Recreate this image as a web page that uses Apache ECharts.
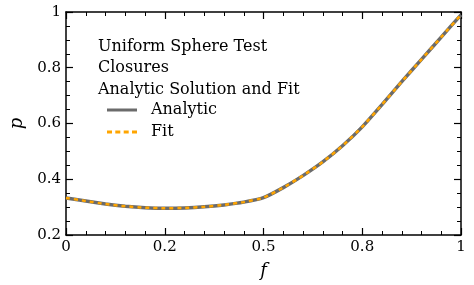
<!DOCTYPE html>
<html>
<head>
<meta charset="utf-8">
<script src="https://cdn.jsdelivr.net/npm/echarts@6/dist/echarts.min.js"></script>
<style>
html,body{margin:0;padding:0;background:#fff;}
#chart{width:474px;height:285px;}
</style>
</head>
<body>
<div id="chart"></div>
<script>
const fValues = [0, 0.05, 0.1, 0.15, 0.2, 0.25, 0.3, 0.35, 0.4, 0.45, 0.5, 0.55, 0.6, 0.65, 0.7, 0.75, 0.8, 0.85, 0.9, 0.95, 1.0];
const analyticP = [0.333, 0.322, 0.311, 0.303, 0.298, 0.296, 0.297, 0.301, 0.308, 0.318, 0.334, 0.370, 0.413, 0.462, 0.520, 0.588, 0.668, 0.750, 0.830, 0.910, 0.99];
const fitP = [0.333, 0.322, 0.311, 0.303, 0.298, 0.296, 0.297, 0.301, 0.308, 0.318, 0.334, 0.370, 0.413, 0.462, 0.520, 0.588, 0.668, 0.750, 0.830, 0.910, 0.99];
const xTickValues = [0, 0.25, 0.5, 0.75, 1];
const xTickLabels = ['0', '0.2', '0.5', '0.8', '1'];
const yTickValues = [0.2, 0.4, 0.6, 0.8, 1];
const yTickLabels = ['0.2', '0.4', '0.6', '0.8', '1'];
const titleLines = ['Uniform Sphere Test', 'Closures', 'Analytic Solution and Fit'];
const seriesNames = ['Analytic', 'Fit'];

const FONT = '"DejaVu Serif", "Liberation Serif", serif';
const GRAY = '#6b6b6b';
const ORANGE = '#FFA500';
const chart = echarts.init(document.getElementById('chart'), null, {renderer: 'canvas'});

function labelFor(values, labels) {
  return function (v) {
    for (let i = 0; i < values.length; i++) {
      if (Math.abs(values[i] - v) < 1e-9) return labels[i];
    }
    return '';
  };
}

const axisLine = {show: true, onZero: false, lineStyle: {color: '#000', width: 1.5}};
const xCommon = {
  type: 'value', min: 0, max: 1, interval: 0.25,
  axisLine: axisLine,
  axisTick: {show: true, inside: true, length: 7, lineStyle: {color: '#000', width: 1.2}},
  minorTick: {show: true, splitNumber: 5, length: 4, lineStyle: {color: '#000', width: 1}},
  splitLine: {show: false}, minorSplitLine: {show: false}
};
const yCommon = {
  type: 'value', min: 0.2, max: 1, interval: 0.2,
  axisLine: axisLine,
  axisTick: {show: true, inside: true, length: 7, lineStyle: {color: '#000', width: 1.2}},
  minorTick: {show: true, splitNumber: 4, length: 4, lineStyle: {color: '#000', width: 1}},
  splitLine: {show: false}, minorSplitLine: {show: false}
};

const solidIcon = 'path://M0,0H30V3H0Z';
const dashIcon = 'path://M0,0H5V3H0Z M8.3,0H13.3V3H8.3Z M16.7,0H21.7V3H16.7Z M25,0H30V3H25Z';

const option = {
  animation: false,
  backgroundColor: '#fff',
  grid: {left: 57, right: 13, top: 12, bottom: 45, containLabel: false},
  title: {
    text: titleLines.join('\n'),
    left: 93, top: 31,
    textStyle: {fontFamily: FONT, fontSize: 16, fontWeight: 'normal', color: '#000', lineHeight: 21.5}
  },
  legend: {
    orient: 'vertical', left: 102, top: 95,
    itemWidth: 30, itemHeight: 3, itemGap: 2,
    textStyle: {fontFamily: FONT, fontSize: 16, color: '#000', lineHeight: 20, padding: [0, 0, 0, 9]},
    data: [
      {name: seriesNames[0], icon: solidIcon, itemStyle: {color: GRAY, borderWidth: 0}},
      {name: seriesNames[1], icon: dashIcon, itemStyle: {color: ORANGE, borderWidth: 0}}
    ]
  },
  xAxis: [
    Object.assign({}, xCommon, {
      position: 'bottom',
      name: 'f', nameLocation: 'middle', nameGap: 27,
      nameTextStyle: {fontFamily: FONT, fontSize: 18, fontStyle: 'italic', color: '#000'},
      axisLabel: {show: true, margin: 5, fontFamily: FONT, fontSize: 15, color: '#000', formatter: labelFor(xTickValues, xTickLabels)}
    }),
    Object.assign({}, xCommon, {position: 'top', axisLabel: {show: false}})
  ],
  yAxis: [
    Object.assign({}, yCommon, {
      position: 'left',
      name: 'p', nameLocation: 'middle', nameGap: 40,
      nameTextStyle: {fontFamily: FONT, fontSize: 18, fontStyle: 'italic', color: '#000'},
      axisLabel: {show: true, margin: 5, fontFamily: FONT, fontSize: 15, color: '#000', formatter: labelFor(yTickValues, yTickLabels)}
    }),
    Object.assign({}, yCommon, {position: 'right', axisLabel: {show: false}})
  ],
  series: [
    {
      name: seriesNames[0], type: 'line', xAxisIndex: 0, yAxisIndex: 0,
      data: fValues.map((f, i) => [f, analyticP[i]]),
      showSymbol: false, symbol: 'none', smooth: 0.15,
      itemStyle: {color: GRAY},
      lineStyle: {color: GRAY, width: 3.5, type: 'solid'}
    },
    {
      name: seriesNames[1], type: 'line', xAxisIndex: 0, yAxisIndex: 0,
      data: fValues.map((f, i) => [f, fitP[i]]),
      showSymbol: false, symbol: 'none', smooth: 0.15,
      itemStyle: {color: ORANGE},
      lineStyle: {color: ORANGE, width: 2.5, type: [4, 4]}
    }
  ]
};
chart.setOption(option);
</script>
</body>
</html>
